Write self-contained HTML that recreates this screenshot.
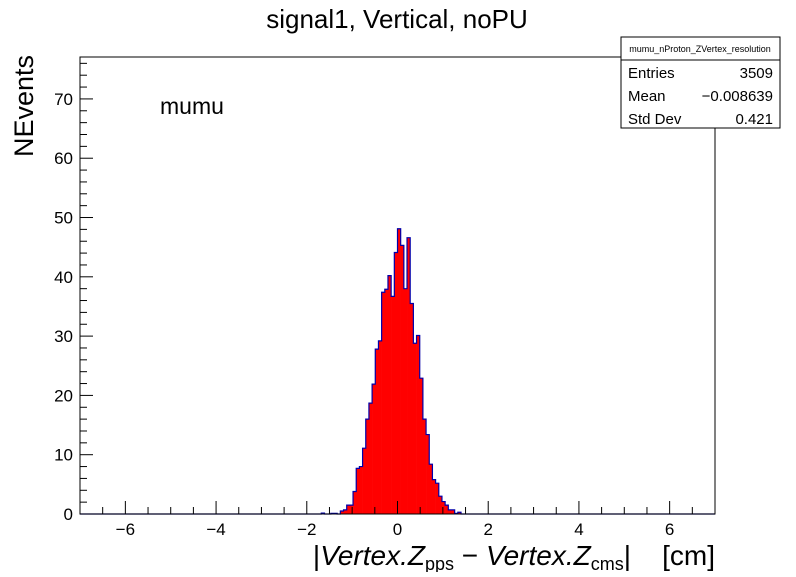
<!DOCTYPE html>
<html><head><meta charset="utf-8"><style>
body{margin:0;background:#fff;font-family:"Liberation Sans",sans-serif}
svg text{font-family:"Liberation Sans",sans-serif}
</style></head><body>
<svg id="chart" width="796" height="572" xmlns="http://www.w3.org/2000/svg">
<rect x="0" y="0" width="796" height="572" fill="#fff"/>
<text x="397" y="28" font-size="26" text-anchor="middle">signal1, Vertical, noPU</text>
<g id="bars"></g>
<rect x="80" y="57" width="635" height="457" fill="none" stroke="#000" stroke-width="1"/>
<g id="axes"></g>
<text transform="translate(33,157) rotate(-90)" font-size="27">NEvents</text>
<text x="715" y="565" font-size="28" text-anchor="end" xml:space="preserve">|<tspan font-style="italic">Vertex.Z</tspan><tspan font-size="18" dy="5">pps</tspan><tspan dy="-5"> − </tspan><tspan font-style="italic">Vertex.Z</tspan><tspan font-size="18" dy="5">cms</tspan><tspan dy="-5">|    [cm]</tspan></text>
<text x="160" y="114" font-size="23">mumu</text>
<g>
<rect x="621" y="37" width="159" height="91" fill="#fff" stroke="#000" stroke-width="1"/>
<line x1="621" y1="60" x2="780" y2="60" stroke="#000"/>
<text x="700" y="52" font-size="9" text-anchor="middle">mumu_nProton_ZVertex_resolution</text>
<text x="628" y="78" font-size="15">Entries</text><text x="773" y="78" font-size="15" text-anchor="end">3509</text>
<text x="628" y="101" font-size="15">Mean</text><text x="773" y="101" font-size="15" text-anchor="end">−0.008639</text>
<text x="628" y="124" font-size="15">Std Dev</text><text x="773" y="124" font-size="15" text-anchor="end">0.421</text>
</g>
</svg>
<script>
const binLow = -7, binWidth = 0.07, nBins = 200;
const binIndex = [76,79,80,82,83,84,85,86,87,88,89,90,91,92,93,94,95,96,97,98,99,100,101,102,103,104,105,106,107,108,109,110,111,112,113,114,115,116,117,118,119];
const binCounts = [0.15,0.1,0.1,0.5,0.7,1.5,1.5,3.8,7.7,8.0,11.1,16.0,18.7,21.9,27.8,29.2,37.4,37.9,40.2,36.7,44.1,48.1,45.3,38.0,46.6,35.5,28.8,30.1,22.9,16.0,13.4,8.4,5.8,5.2,3.0,2.1,1.5,0.7,0.7,0.1,0.3];
const xTicks = [-6,-4,-2,0,2,4,6];
const yTicks = [0,10,20,30,40,50,60,70];
const X0=80,X1=715,Y0=514,Y1=57,xmin=-7,xmax=7,ymin=0,ymax=77.07;
const sx=v=>X0+(v-xmin)/(xmax-xmin)*(X1-X0);
const sy=v=>Y0-(v-ymin)/(ymax-ymin)*(Y0-Y1);
const NS="http://www.w3.org/2000/svg";
const bars=document.getElementById('bars'), axes=document.getElementById('axes');
function mk(t,a,p){const e=document.createElementNS(NS,t);for(const k in a)e.setAttribute(k,a[k]);p.appendChild(e);return e;}
const full=new Array(nBins).fill(0);
binIndex.forEach((b,i)=>{full[b]=binCounts[i];});
binIndex.forEach((b,i)=>{
  const xa=sx(binLow+b*binWidth), xb=sx(binLow+(b+1)*binWidth), y=sy(binCounts[i]);
  const r=mk('rect',{x:xa,y:y,width:xb-xa+0.3,height:Y0-y,fill:'#ff0000'},bars);
  
  
});
let d=`M${sx(binLow)},${Y0}`;
for(let b=0;b<nBins;b++){
  const y=sy(full[b]);
  d+=`L${sx(binLow+b*binWidth)},${y}L${sx(binLow+(b+1)*binWidth)},${y}`;
}
const ol=mk('path',{d:d,fill:'none',stroke:'#0000aa','stroke-width':1.2},bars);


for(let v=-7;v<=7.001;v+=0.5){
  const major=Math.abs(v/2-Math.round(v/2))<1e-6;
  mk('line',{x1:sx(v),x2:sx(v),y1:Y0,y2:Y0-(major?13:7),stroke:'#000'},axes);
}
xTicks.forEach(v=>{
  const t=mk('text',{x:sx(v),y:535,'font-size':17,'text-anchor':'middle'},axes);
  t.textContent=(v<0?'−':'')+Math.abs(v);
  
  
});
for(let v=0;v<=76;v+=2){
  const major=v%10===0;
  mk('line',{x1:X0,x2:X0+(major?13:7),y1:sy(v),y2:sy(v),stroke:'#000'},axes);
}
yTicks.forEach(v=>{
  const t=mk('text',{x:73,y:sy(v)+6,'font-size':17,'text-anchor':'end'},axes);
  t.textContent=v;
  
  
});
</script>
</body></html>
